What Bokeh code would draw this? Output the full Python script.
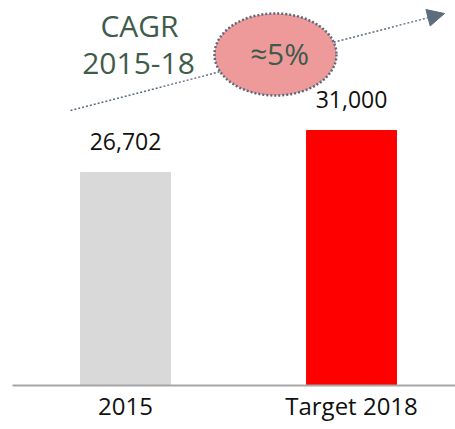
from bokeh.plotting import figure
from bokeh.models import ColumnDataSource, Range1d, FixedTicker, LabelSet, Label, Arrow, NormalHead
from bokeh.core.properties import value
from bokeh.embed import file_html
from bokeh.resources import INLINE

# ---- data ----
categories = ["2015", "Target 2018"]
values = [26702, 31000]
value_labels = ["26,702", "31,000"]
bar_colors = ["#d9d9d9", "#ff0000"]
cagr_title = ["CAGR", "2015-18"]
cagr_value = "\u22485%"

FONT = "Open Sans"
DARK = "#3f5b4b"
ARROW_COL = "#5d6d7d"

xs = list(range(len(categories)))
src = ColumnDataSource(dict(x=xs, top=values, color=bar_colors, label=value_labels))

p = figure(width=455, height=424,
           x_range=Range1d(-0.5, 1.46), y_range=Range1d(4905, 44303),
           output_backend="svg", toolbar_location=None,
           min_border_left=12, min_border_right=0, min_border_top=0, min_border_bottom=0)

# pixel-like helper ranges for decorations (y measured upward from baseline)
p.extra_x_ranges = {"px": Range1d(12, 455)}
p.extra_y_ranges = {"py": Range1d(0, 385)}

p.vbar(x="x", top="top", bottom=0, width=0.398, color="color", source=src)

p.add_layout(LabelSet(x="x", y="top", text="label", source=src, y_offset=31,
                      text_align="center", text_baseline="middle",
                      text_font=value(FONT), text_font_size="23px", text_color="#111111"))

# CAGR arrow (behind ellipse)
arrow = Arrow(x_start=70, y_start=275, x_end=444, y_end=372,
              x_range_name="px", y_range_name="py",
              line_color=ARROW_COL, line_width=1.5, line_dash="2 2",
              end=NormalHead(size=17, fill_color=ARROW_COL, line_color=ARROW_COL),
              level="underlay")
p.add_layout(arrow)

p.ellipse(x=[275], y=[331], width=122, height=82, x_range_name="px", y_range_name="py",
          fill_color="#ee9a9a", line_color="#5b6b7b", line_dash="2 2", line_width=2.5)

for txt, cx, cy in [(cagr_title[0], 139, 360), (cagr_title[1], 138, 322), (cagr_value, 279, 332)]:
    p.add_layout(Label(x=cx, y=cy, text=txt, x_range_name="px", y_range_name="py",
                       text_align="center", text_baseline="middle",
                       text_font=FONT, text_font_size="30px", text_color=DARK))

p.xaxis.ticker = FixedTicker(ticks=xs)
p.xaxis.major_label_overrides = {i: c for i, c in zip(xs, categories)}
p.xaxis.axis_line_color = "#a6a6a6"
p.xaxis.axis_line_width = 2
p.xaxis.major_tick_line_color = None
p.xaxis.minor_tick_line_color = None
p.xaxis.major_label_text_font = FONT
p.xaxis.major_label_text_font_size = "24px"
p.xaxis.major_label_text_color = "#111111"
p.xaxis.major_label_standoff = -3
p.yaxis.visible = False
p.grid.visible = False
p.outline_line_color = None

open("out.html", "w").write(file_html(p, INLINE))
